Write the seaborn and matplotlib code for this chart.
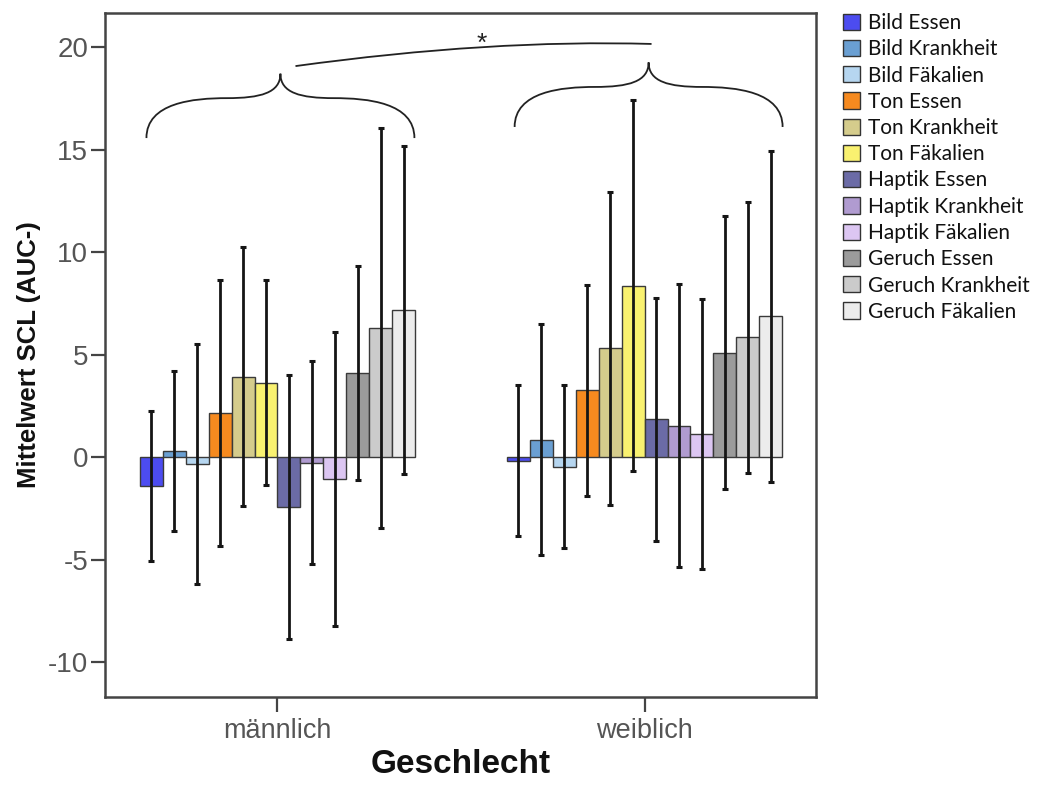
import numpy as np
import pandas as pd
import matplotlib
matplotlib.use("Agg")
import matplotlib.pyplot as plt
from matplotlib.path import Path
from matplotlib.patches import PathPatch, Patch
import seaborn as sns

# ---- data ---------------------------------------------------------------
groups = ["männlich", "weiblich"]
conditions = [
    "Bild Essen", "Bild Krankheit", "Bild Fäkalien",
    "Ton Essen", "Ton Krankheit", "Ton Fäkalien",
    "Haptik Essen", "Haptik Krankheit", "Haptik Fäkalien",
    "Geruch Essen", "Geruch Krankheit", "Geruch Fäkalien",
]
mean_maennlich = [-1.41, 0.30, -0.35, 2.15, 3.93, 3.63, -2.42, -0.27, -1.07, 4.10, 6.29, 7.18]
err_maennlich = [3.65, 3.90, 5.85, 6.50, 6.30, 5.00, 6.43, 4.95, 7.17, 5.20, 9.74, 8.00]
mean_weiblich = [-0.18, 0.84, -0.47, 3.25, 5.30, 8.35, 1.85, 1.53, 1.13, 5.10, 5.84, 6.87]
err_weiblich = [3.68, 5.63, 3.97, 5.15, 7.63, 9.05, 5.92, 6.90, 6.60, 6.66, 6.60, 8.07]
y_ticks = [-10, -5, 0, 5, 10, 15, 20]

colors = [
    "#4c4cf0", "#6a9fd2", "#b6d6f0",
    "#f68a1f", "#d5cc8c", "#f9f170",
    "#6b6ba6", "#b09bd0", "#dcc6f2",
    "#9b9b9b", "#cbcbcb", "#ececec",
]

df = pd.DataFrame({
    "Geschlecht": np.repeat(groups, len(conditions)),
    "Bedingung": conditions * len(groups),
    "Mittelwert": mean_maennlich + mean_weiblich,
    "Fehler": err_maennlich + err_weiblich,
})

# ---- figure -------------------------------------------------------------
sns.set_style("white")
plt.rcParams["font.family"] = ["Liberation Sans", "DejaVu Sans"]

fig = plt.figure(figsize=(10.57, 7.92), dpi=100)
ax = fig.add_axes([0.0993, 0.12, 0.6727, 0.8636])

sns.barplot(
    data=df, x="Geschlecht", y="Mittelwert", hue="Bedingung",
    order=groups, hue_order=conditions, palette=colors,
    width=0.75, errorbar=None, saturation=1,
    edgecolor="#3a3a3a", linewidth=1.0, legend=False, ax=ax,
)

# error bars centred on each drawn bar
for cond, container in zip(conditions, ax.containers):
    sub = df[df["Bedingung"] == cond].set_index("Geschlecht").loc[groups]
    xs = [b.get_x() + b.get_width() / 2 for b in container]
    ax.errorbar(xs, sub["Mittelwert"].values, yerr=sub["Fehler"].values,
                fmt="none", ecolor="#151515", elinewidth=2.0,
                capsize=2.0, capthick=2.2, zorder=5)

ax.set_xlim(-0.47, 1.467)
ax.set_ylim(-11.7, 21.66)
ax.set_yticks(y_ticks)
ax.set_yticklabels([str(t) for t in y_ticks])

for s in ax.spines.values():
    s.set_visible(True)
    s.set_color("#444444")
    s.set_linewidth(1.8)

ax.tick_params(axis="y", direction="out", length=10, width=1.6,
               color="#444444", labelsize=20, labelcolor="#555555", pad=2,
               left=True)
ax.tick_params(axis="x", direction="out", length=11, width=1.6,
               color="#444444", labelsize=19.5, labelcolor="#555555", pad=4,
               bottom=True)

ax.set_ylabel("Mittelwert SCL (AUC-)", fontsize=18.5, fontweight="bold",
              color="#111111", labelpad=5)
ax.set_xlabel("Geschlecht", fontsize=24, fontweight="bold",
              color="#111111", labelpad=4)


# ---- curly braces and significance marker ------------------------------
def brace(ax, x0, x1, y_end, y_tip):
    xm = (x0 + x1) / 2
    h = y_tip - y_end
    w = (x1 - x0) / 2
    yq = y_end + 0.62 * h
    verts = [
        (x0, y_end),
        (x0, y_end + 0.55 * h), (x0 + 0.35 * w, yq), (x0 + 0.6 * w, yq),
        (x0 + 0.85 * w, yq), (xm, y_end + 0.7 * h), (xm, y_tip),
        (xm, y_end + 0.7 * h), (x1 - 0.85 * w, yq), (x1 - 0.6 * w, yq),
        (x1 - 0.35 * w, yq), (x1, y_end + 0.55 * h), (x1, y_end),
    ]
    codes = [Path.MOVETO] + [Path.CURVE4] * 12
    ax.add_patch(PathPatch(Path(verts, codes), fill=False,
                           lw=1.3, color="#222222", zorder=6))


brace(ax, -0.357, 0.373, 15.56, 18.7)
brace(ax, 0.646, 1.376, 16.1, 19.25)

link = Path([(0.049, 19.07), (0.58, 20.38), (1.019, 20.15)],
            [Path.MOVETO, Path.CURVE3, Path.CURVE3])
ax.add_patch(PathPatch(link, fill=False, lw=1.3, color="#222222", zorder=6))
ax.text(0.556, 19.8, "*", ha="center", va="baseline", fontsize=19,
        color="#222222")

# ---- legend -------------------------------------------------------------
handles = [Patch(facecolor=c, edgecolor="#333333", linewidth=1.0)
           for c in colors]
leg = ax.legend(handles, conditions, loc="upper left",
                bbox_to_anchor=(843 / 1057, 1 - 13 / 792),
                bbox_transform=fig.transFigure, frameon=False,
                borderaxespad=0, borderpad=0, handlelength=0.82,
                handleheight=0.82, handletextpad=0.4, labelspacing=0.30,
                prop={"family": ["Lato", "DejaVu Sans"], "size": 15})
for t in leg.get_texts():
    t.set_color("#111111")

fig.savefig("out.png", dpi=100, facecolor="white")
